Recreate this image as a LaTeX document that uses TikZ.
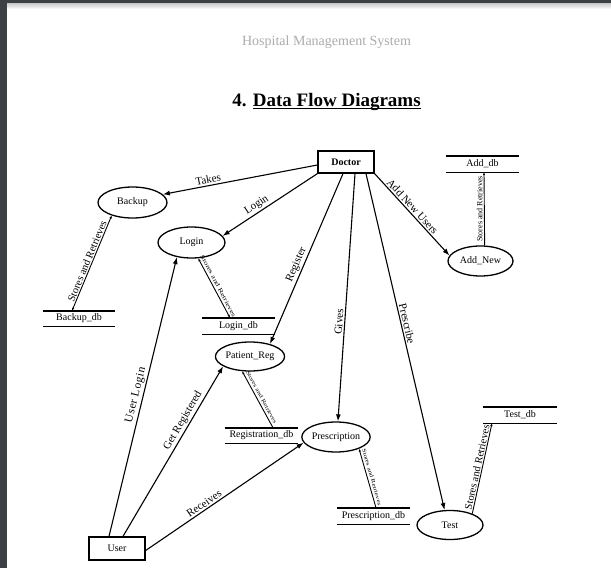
\documentclass[tikz,border=0pt]{standalone}
\usepackage{fontspec}
\usepackage{graphicx}
\setmainfont{Liberation Serif}
\newfontfamily\spacedserif[LetterSpace=6]{Liberation Serif}
\usepackage{tikz}
\usetikzlibrary{shapes.geometric, arrows.meta, positioning, calc}
\definecolor{pageframe}{RGB}{60, 64, 68}
\definecolor{headgrey}{RGB}{172, 172, 172}
\newcommand{\ulbold}[1]{\setbox0\hbox{#1}\rlap{\rule[-3pt]{\wd0}{1.6pt}}\box0}

\begin{document}
\begin{tikzpicture}[
    x=1pt, y=-1pt,
    process/.style={ellipse, draw, line width=1.3pt, inner sep=0pt, minimum width=67pt, minimum height=30pt, font=\fontsize{10}{12}\selectfont},
    entity/.style={rectangle, draw, line width=1.3pt, inner sep=0pt, minimum width=56pt, minimum height=22pt, font=\fontsize{10}{12}\selectfont},
    store/.style={rectangle, inner sep=0pt, minimum width=73pt, minimum height=16pt, font=\fontsize{10}{12}\selectfont},
    storeline/.style={line width=1.4pt},
    line/.style={draw, line width=1.1pt, -{Latex[length=7pt, width=5pt]}},
    dbline/.style={draw, line width=0.9pt},
    dbto/.style={dbline, -{Latex[length=3pt, width=2.5pt]}},
    dbfrom/.style={dbline, {Latex[length=3pt, width=2.5pt]}-},
    dbboth/.style={dbline, {Latex[length=3pt, width=2.5pt]}-{Latex[length=3pt, width=2.5pt]}},
    flowlabel/.style={sloped, above, inner sep=1.5pt, font=\fontsize{11}{13}\selectfont},
    dblabel/.style={sloped, above, inner sep=1pt, font=\fontsize{8}{9}\selectfont},
    tinylabel/.style={sloped, above, inner sep=2.2pt}
]
\useasboundingbox (0,0) rectangle (611,568);

% Page
\fill[white] (0,0) rectangle (611,568);
\fill[pageframe] (0,0) rectangle (7,568);
\fill[pageframe] (0,0) rectangle (611,3.5);
\shade[top color=black!20, bottom color=white] (7,3.5) rectangle (611,9);

\node[text=headgrey, font=\fontsize{14}{16}\selectfont] (header) at (326.5,42) {Hospital Management System};
\node[font=\fontsize{19}{22}\selectfont\bfseries] (title) at (326.5,102) {4. \ulbold{Data Flow Diagrams}};

% Entities and processes
\node[entity, font=\fontsize{10}{12}\selectfont\bfseries] (doctor) at (346,162) {Doctor};
\node[entity, minimum height=23pt] (user) at (117,548.5) {User};
\node[process, minimum width=69pt, minimum height=31pt] (backup) at (132.5,202.5) {Backup};
\node[process, minimum height=31pt] (login) at (191.5,242.5) {Login};
\node[process, minimum width=65pt] (addnew) at (480.5,261) {Add\_New};
\node[process, minimum width=66pt, minimum height=29pt] (patreg) at (250,356.5) {Patient\_Reg};
\node[process, minimum width=66pt] (presc) at (336,437) {Prescription};
\node[process, minimum width=66pt, minimum height=29pt] (test) at (450,525) {Test};

% Data stores
\node[store] (adddb) at (482.5,164) {Add\_db};
\node[store, minimum width=72pt, minimum height=15pt] (bkdb) at (79,318.5) {Backup\_db};
\node[store] (lgdb) at (238.5,326) {Login\_db};
\node[store, minimum height=15pt] (regdb) at (261.5,435.5) {Registration\_db};
\node[store] (prdb) at (373.5,516) {Prescription\_db};
\node[store, minimum width=74pt] (tsdb) at (520,415) {Test\_db};
\foreach \s in {adddb, bkdb, lgdb, regdb, prdb, tsdb}
    \draw[storeline] (\s.north west) -- (\s.north east) (\s.south west) -- (\s.south east);

% Flows from Doctor
\path[line] ([yshift=-3pt]doctor.west) -- node[flowlabel, pos=.7] {Takes} (backup.15);
\path[line] (doctor.south west) -- node[flowlabel, pos=.6] {Login} (login.12);
\path[line] ([xshift=-3pt]doctor.south) -- node[flowlabel, pos=.55] {Register} (patreg.32);
\path[line] ([xshift=9pt]doctor.south) -- node[flowlabel, pos=.6] {Gives} (presc.83);
\path[line] ([xshift=20pt]doctor.south) -- node[flowlabel, pos=.45] {Prescribe} (test.110);
\path[line] (doctor.south east) -- node[flowlabel, pos=.45] {Add New Users} (addnew.170);

% Flows from User
\path[line] ([xshift=-8pt]user.north) -- node[flowlabel, pos=.5, font=\spacedserif\fontsize{11.5}{13}\selectfont] {User Login} (login.-135);
\path[line] ([xshift=6pt]user.north) -- node[flowlabel, pos=.66] {Get Registered} (patreg.-160);
\path[line] ([yshift=-2pt]user.east) -- node[flowlabel, pos=.39] {Receives} (presc.-170);

% Stores and retrieves
\path[dbboth] ([xshift=-7pt]bkdb.north) -- node[dblabel, font=\fontsize{10.5}{12}\selectfont] {Stores and Retrieves} (backup.-148);
\path[dbboth] (login.-67) -- node[tinylabel] {\scalebox{1.4}[1]{\fontsize{6}{7}\selectfont Stores and Retrieves}} ([xshift=-8.5pt]lgdb.north);
\path[dbfrom] (patreg.-118) -- node[tinylabel] {\scalebox{1.3}[1]{\fontsize{5.5}{6}\selectfont Stores and Retrieves}} ([xshift=11.5pt]regdb.north);
\path[dbfrom] (presc.-27) -- node[tinylabel] {\scalebox{1.3}[1]{\fontsize{5.5}{6}\selectfont Stores and Retrieves}} ([xshift=2.5pt]prdb.north);
\path[dbto] (test.27) -- node[dblabel, font=\fontsize{10.5}{12}\selectfont] {Stores and Retrieves} ([xshift=-28pt]tsdb.south);
\path[dbfrom] ([xshift=1.5pt]adddb.south) -- node[pos=.5, rotate=90, anchor=south, inner sep=1.5pt, font=\fontsize{8}{9}\selectfont] {Stores and Retrieves} (addnew.75);

\end{tikzpicture}
\end{document}
